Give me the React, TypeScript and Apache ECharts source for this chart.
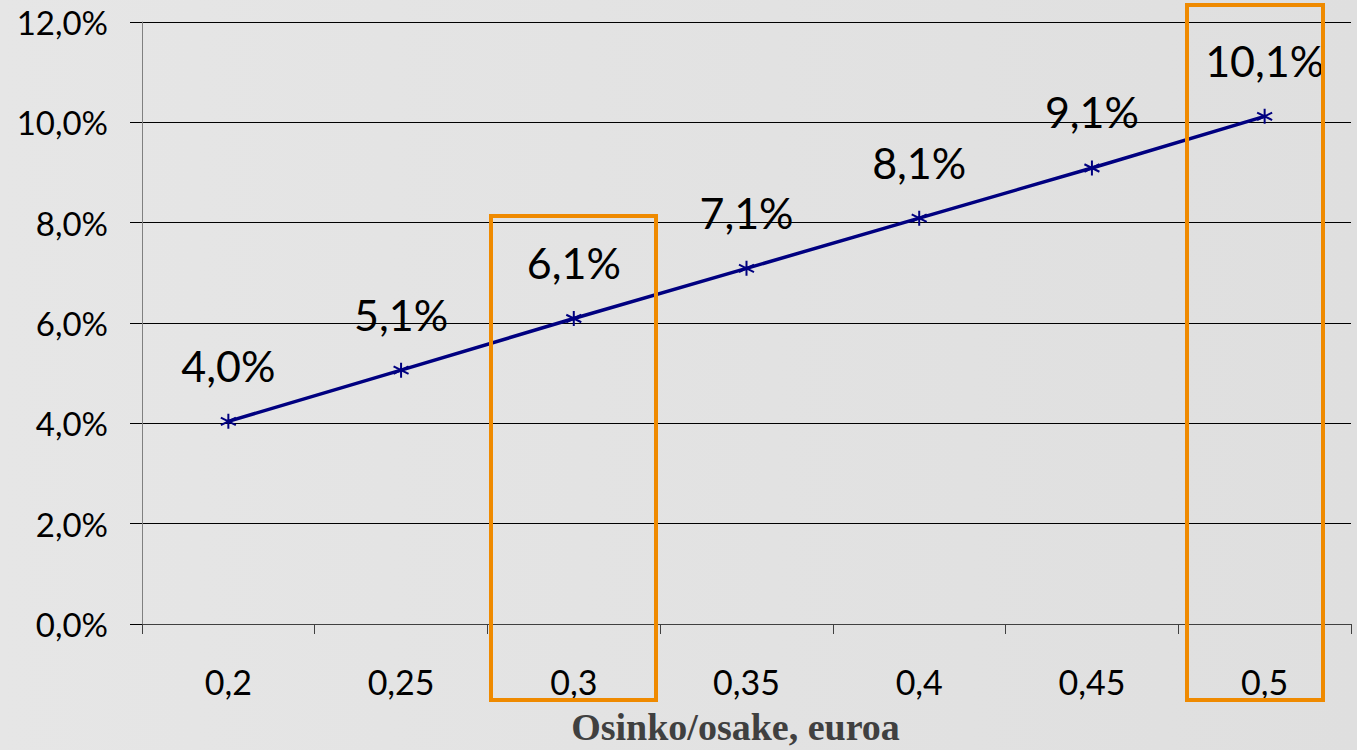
import React, { useEffect, useRef } from "react";
import * as echarts from "echarts";

const categories = ["0,2", "0,25", "0,3", "0,35", "0,4", "0,45", "0,5"];
const values = [0.0404, 0.0506, 0.0609, 0.0709, 0.0809, 0.0909, 0.1012];
const valueLabels = ["4,0%", "5,1%", "6,1%", "7,1%", "8,1%", "9,1%", "10,1%"];
const axisTitle = "Osinko/osake, euroa";

const fmtPct = (v: number) => (v * 100).toFixed(1).replace(".", ",") + "%";

export default function App() {
  const ref = useRef<HTMLDivElement>(null);
  useEffect(() => {
    document.body.style.margin = "0";
    if (!ref.current) return;
    const chart = echarts.init(ref.current, null, { renderer: "svg" });
    const font = "Lato, 'Open Sans', sans-serif";
    chart.setOption({
      animation: false,
      backgroundColor: {
        type: "linear",
        x: 0,
        y: 0,
        x2: 1,
        y2: 0,
        colorStops: [
          { offset: 0, color: "#e6e6e6" },
          { offset: 1, color: "#dfdfdf" },
        ],
      },
      grid: { left: 142, right: 6, top: 22, bottom: 126, outerBoundsMode: "none", containLabel: false },
      xAxis: {
        type: "category",
        data: categories,
        boundaryGap: true,
        axisLine: { lineStyle: { color: "#404040", width: 1 } },
        axisTick: { show: true, length: 10, inside: false, lineStyle: { color: "#404040" } },
        axisLabel: { color: "#000", fontFamily: font, fontSize: 34, margin: 40 },
        name: axisTitle,
        nameLocation: "middle",
        nameGap: 84,
        nameTextStyle: {
          color: "#404040",
          fontFamily: "'Liberation Serif', serif",
          fontWeight: "bold",
          fontSize: 38,
          lineHeight: 38,
          padding: [0, 22, 0, 0],
        },
      },
      yAxis: {
        type: "value",
        min: 0,
        max: 0.12,
        interval: 0.02,
        axisLine: { show: true, lineStyle: { color: "#808080", width: 1 } },
        axisTick: { show: true, length: 12, inside: false, lineStyle: { color: "#000" } },
        splitLine: { show: true, lineStyle: { color: "#000", width: 1 } },
        axisLabel: {
          color: "#000",
          fontFamily: font,
          fontSize: 33,
          margin: 34,
          formatter: fmtPct,
        },
      },
      series: [
        {
          type: "line",
          data: values,
          lineStyle: { color: "#000080", width: 3.5 },
          symbol: "path://M0,-6L0,6M-5.2,-3L5.2,3M-5.2,3L5.2,-3",
          symbolSize: 15,
          itemStyle: { color: "none", borderColor: "#000080", borderWidth: 2 },
          label: {
            show: true,
            position: "top",
            distance: 25,
            color: "#000",
            fontFamily: font,
            fontSize: 43,
            lineHeight: 42,
            formatter: (p: any) => valueLabels[p.dataIndex],
          },
          emphasis: { disabled: true },
        },
      ],
      graphic: [
        {
          type: "rect",
          shape: { x: 491, y: 216, width: 165, height: 484 },
          style: { fill: "none", stroke: "#EF8A00", lineWidth: 4 },
          z: 100,
        },
        {
          type: "rect",
          shape: { x: 1187, y: 5, width: 136, height: 695 },
          style: { fill: "none", stroke: "#EF8A00", lineWidth: 4 },
          z: 100,
        },
      ],
    });
    return () => chart.dispose();
  }, []);
  return <div ref={ref} style={{ width: 1357, height: 750 }} />;
}
